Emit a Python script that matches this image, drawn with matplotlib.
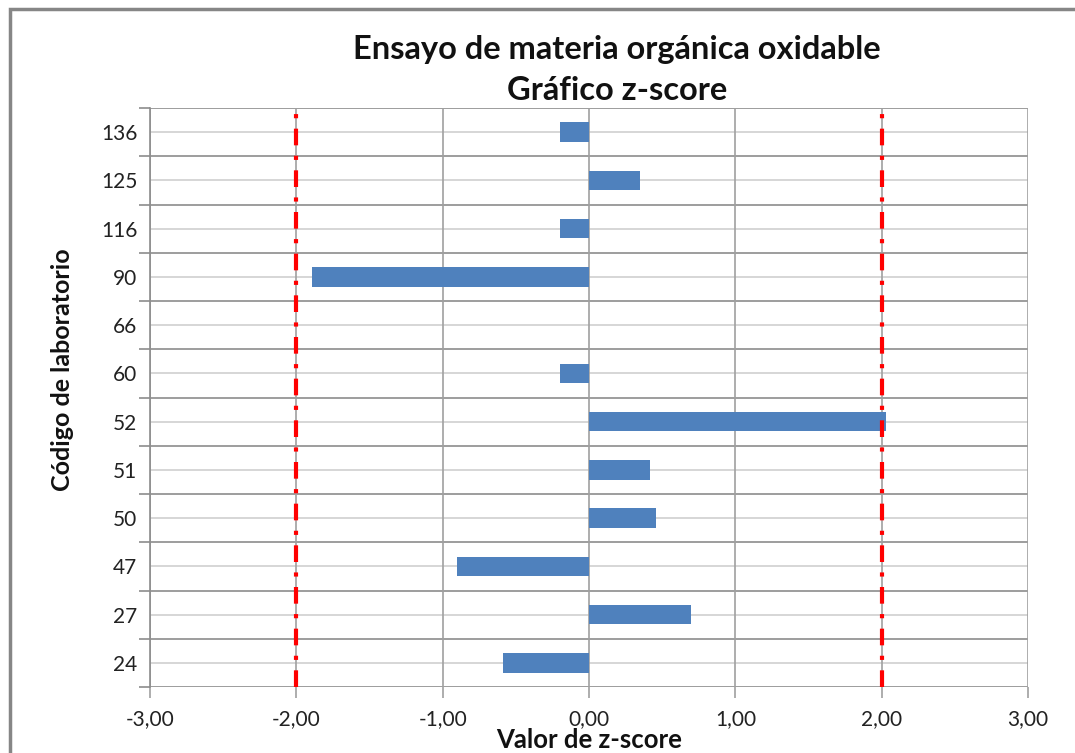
import matplotlib
matplotlib.use("Agg")
import matplotlib.pyplot as plt
from matplotlib.patches import Rectangle
import numpy as np

labs = ["24", "27", "47", "50", "51", "52", "60", "66", "90", "116", "125", "136"]
zvals = [-0.59, 0.70, -0.90, 0.46, 0.42, 2.03, -0.20, 0.0, -1.89, -0.20, 0.35, -0.20]
xticks = [-3, -2, -1, 0, 1, 2, 3]
xtick_labels = ["-3,00", "-2,00", "-1,00", "0,00", "1,00", "2,00", "3,00"]
limits = [-2, 2]

plt.rcParams['font.family'] = ['Lato', 'DejaVu Sans']

W, H = 1075, 753
fig = plt.figure(figsize=(W/100, H/100), dpi=100)
ax = fig.add_axes([150/W, 1-687/H, (1028-150)/W, (687-108)/H])

n = len(labs)
y = np.arange(n)
ax.set_xlim(-3, 3)
ax.set_ylim(-0.5, n-0.5)

# grid lines
for yy in y:
    ax.axhline(yy, color='#d0d0d0', lw=1.2, zorder=0)
for yy in np.arange(-0.5, n, 1.0):
    ax.axhline(yy, color='#8c8c8c', lw=1.2, zorder=0)
for xx in xticks:
    ax.axvline(xx, color='#a0a0a0', lw=1.2, zorder=0)

ax.barh(y, zvals, height=0.4, color='#4f81bd', lw=0, zorder=2)

for lim in limits:
    ax.axvline(lim, color='#ff0000', lw=3, linestyle=(0, (4, 2.5, 1, 2.5)), zorder=3)

for s in ax.spines.values():
    s.set_visible(False)
ax.spines['left'].set_visible(True)
ax.spines['left'].set_color('#8c8c8c')
ax.spines['left'].set_linewidth(1.2)

ax.set_yticks(y)
ax.set_yticklabels(labs, fontsize=15, color='#222222')
ax.set_yticks(np.arange(-0.5, n, 1.0), minor=True)
ax.tick_params(axis='y', which='major', length=0, pad=9)
ax.tick_params(axis='y', which='minor', length=8, color='#8c8c8c', width=1.2)
ax.set_xticks(xticks)
ax.set_xticklabels(xtick_labels, fontsize=15, color='#222222')
ax.tick_params(axis='x', length=8, color='#a0a0a0', width=1.2, pad=8)

fig.text(617/W, 1-50/H, "Ensayo de materia orgánica oxidable", ha='center', va='center',
         fontsize=23.5, fontweight='bold', color='#111111')
fig.text(617/W, 1-91/H, "Gráfico z-score", ha='center', va='center',
         fontsize=23.5, fontweight='bold', color='#111111')
fig.text(589/W, 1-740/H, "Valor de z-score", ha='center', va='center',
         fontsize=18.5, fontweight='bold', color='#111111')
fig.text(62/W, 1-370/H, "Código de laboratorio", ha='center', va='center', rotation=90,
         fontsize=18, fontweight='bold', color='#111111')

fig.patches.append(Rectangle((10/W, -0.1), 1.2, 1 - 9/H + 0.1, transform=fig.transFigure,
                             fill=False, edgecolor='#868686', lw=2.5, zorder=10))

fig.savefig("out.png", dpi=100)
